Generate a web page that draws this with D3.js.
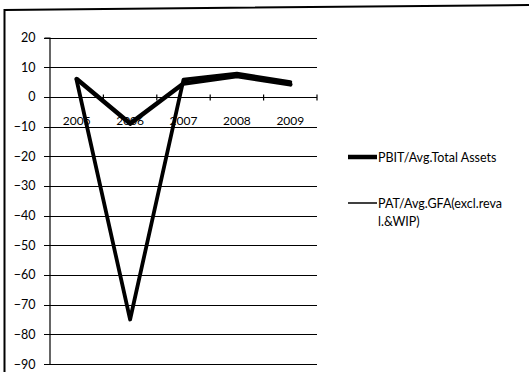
<!DOCTYPE html>
<html>
<head>
<meta charset="utf-8">
<script src="https://cdn.jsdelivr.net/npm/d3@7"></script>
<style>
  html, body { margin: 0; padding: 0; background: #fff; }
  svg { display: block; }
  text { font-family: Lato, "Open Sans", sans-serif; fill: #000; }
</style>
</head>
<body>
<svg id="chart" width="529" height="372"></svg>
<script>
// Financial ratios by year (%)
const years = ["2005", "2006", "2007", "2008", "2009"];
const pbitAvgTotalAssets = [6, -9, 4.5, 7, 4.2];
const patAvgGfa = [5.5, -75, 5.8, 7.8, 5];
const yTickValues = [20, 10, 0, -10, -20, -30, -40, -50, -60, -70, -80, -90];
const seriesNames = ["PBIT/Avg.Total Assets", "PAT/Avg.GFA(excl.reva", "l.&WIP)"];

const svg = d3.select("#chart");

// outer chart frame (left and top edges)
svg.append("path")
  .attr("d", "M4.5,372 L4.5,10 L529,5")
  .attr("fill", "none")
  .attr("stroke", "#000")
  .attr("stroke-width", 2);

const x = d3.scaleBand().domain(years).range([50, 317]).padding(0);
const y = d3.scaleLinear().domain([-90, 20]).range([364, 37.5]);

// horizontal gridlines
svg.append("g")
  .selectAll("line")
  .data(yTickValues)
  .join("line")
  .attr("x1", 44)
  .attr("x2", 317)
  .attr("y1", d => Math.round(y(d)) + 0.5)
  .attr("y2", d => Math.round(y(d)) + 0.5)
  .attr("stroke", "#000")
  .attr("stroke-width", 1.2);

// value axis
const yAxis = svg.append("g")
  .attr("transform", "translate(49.5,0)")
  .call(d3.axisLeft(y).tickValues(yTickValues).tickSize(5).tickPadding(9).tickFormat(d3.format("d")));
yAxis.select(".domain").attr("stroke", "#000").attr("stroke-width", 1.2);
yAxis.selectAll(".tick line").remove();
yAxis.selectAll("text")
  .style("font-family", "Lato, 'Open Sans', sans-serif")
  .attr("font-size", 12.5)
  .attr("fill", "#000");

// category axis along zero, with tick marks at band edges
const zeroY = Math.round(y(0)) + 0.5;
svg.append("g")
  .selectAll("line")
  .data(years)
  .join("line")
  .attr("x1", d => x(d) + x.bandwidth())
  .attr("x2", d => x(d) + x.bandwidth())
  .attr("y1", zeroY - 3)
  .attr("y2", zeroY + 3)
  .attr("stroke", "#000")
  .attr("stroke-width", 1.2);

svg.append("g")
  .selectAll("text")
  .data(years)
  .join("text")
  .attr("x", d => x(d) + x.bandwidth() / 2)
  .attr("y", y(-10) - 2)
  .attr("text-anchor", "middle")
  .attr("font-size", 12)
  .text(d => d);

// series lines
const line = d3.line()
  .x((d, i) => x(years[i]) + x.bandwidth() / 2)
  .y(d => y(d));

svg.append("path")
  .datum(patAvgGfa)
  .attr("d", line)
  .attr("fill", "none")
  .attr("stroke", "#000")
  .attr("stroke-width", 3.8)
  .attr("stroke-linejoin", "round")
  .attr("stroke-linecap", "round");

svg.append("path")
  .datum(pbitAvgTotalAssets)
  .attr("d", line)
  .attr("fill", "none")
  .attr("stroke", "#000")
  .attr("stroke-width", 4.5)
  .attr("stroke-linejoin", "round")
  .attr("stroke-linecap", "round");

// legend
const legend = svg.append("g");
legend.append("line")
  .attr("x1", 348).attr("x2", 377)
  .attr("y1", 157).attr("y2", 157)
  .attr("stroke", "#000").attr("stroke-width", 4.5);
legend.append("text")
  .attr("x", 378).attr("y", 161.5)
  .attr("font-size", 12.5)
  .text(seriesNames[0]);

legend.append("line")
  .attr("x1", 348).attr("x2", 377)
  .attr("y1", 203).attr("y2", 203)
  .attr("stroke", "#000").attr("stroke-width", 1.5);
legend.append("text")
  .attr("x", 378).attr("y", 207.5)
  .attr("font-size", 12.5)
  .text(seriesNames[1]);
legend.append("text")
  .attr("x", 378).attr("y", 226)
  .attr("font-size", 12.5)
  .text(seriesNames[2]);
</script>
</body>
</html>
